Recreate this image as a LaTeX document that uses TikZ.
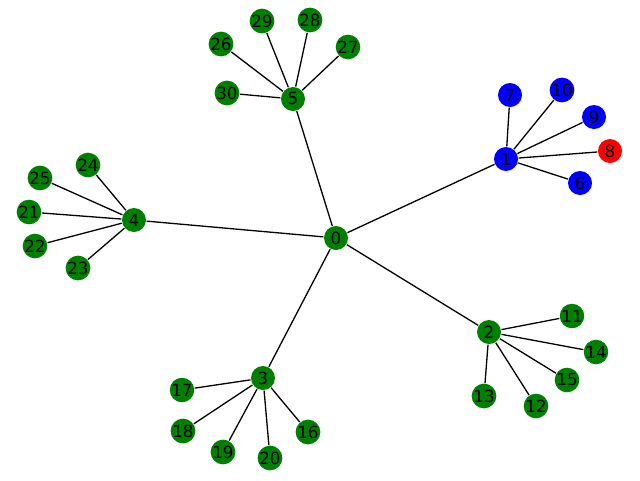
\documentclass[tikz,border=0pt]{standalone}
\usepackage{fontspec}
\setmainfont{DejaVu Sans}
\usepackage{tikz}
\usetikzlibrary{positioning}
\definecolor{nxgreen}{RGB}{0,128,0}
\definecolor{nxblue}{RGB}{0,0,255}
\definecolor{nxred}{RGB}{255,0,0}
\tikzset{
  vtx/.style={circle, fill=nxgreen, minimum size=24pt, inner sep=0pt,
    font=\fontsize{16.7}{18}\selectfont},
  blu/.style={vtx, fill=nxblue},
  rd/.style={vtx, fill=nxred},
}

\begin{document}
\begin{tikzpicture}
          [x=1pt, y=-1pt, every path/.style={line width=1.3pt}]
          \useasboundingbox (0,0) rectangle (640,480);
          \node (n0) [vtx] at (336,238) {0};
          \node (n1) [blu] at (506,159) {1};
          \node (n2) [vtx] at (489,332) {2};
          \node (n3) [vtx] at (263,378) {3};
          \node (n4) [vtx] at (134,220) {4};
          \node (n5) [vtx] at (293,99) {5};
          \node (n6) [blu] at (580,183) {6};
          \node (n7) [blu] at (510,95) {7};
          \node (n8) [rd] at (610,151) {8};
          \node (n9) [blu] at (594,117) {9};
          \node (n10) [blu] at (562,90) {10};
          \node (n11) [vtx] at (572,316) {11};
          \node (n12) [vtx] at (536,406) {12};
          \node (n13) [vtx] at (484,396) {13};
          \node (n14) [vtx] at (596,352) {14};
          \node (n15) [vtx] at (567,380) {15};
          \node (n16) [vtx] at (308,432) {16};
          \node (n17) [vtx] at (182,390) {17};
          \node (n18) [vtx] at (183,431) {18};
          \node (n19) [vtx] at (223,452) {19};
          \node (n20) [vtx] at (270,458) {20};
          \node (n21) [vtx] at (29,212) {21};
          \node (n22) [vtx] at (35,246) {22};
          \node (n23) [vtx] at (78,268) {23};
          \node (n24) [vtx] at (88,165) {24};
          \node (n25) [vtx] at (40,178) {25};
          \node (n26) [vtx] at (221,44) {26};
          \node (n27) [vtx] at (348,47) {27};
          \node (n28) [vtx] at (310,20) {28};
          \node (n29) [vtx] at (262,21) {29};
          \node (n30) [vtx] at (227,93) {30};

          \foreach \h in {1,2,3,4,5}
            \draw (n0) -- (n\h);
          \foreach \l in {6,...,10}
            \draw (n1) -- (n\l);
          \foreach \l in {11,...,15}
            \draw (n2) -- (n\l);
          \foreach \l in {16,...,20}
            \draw (n3) -- (n\l);
          \foreach \l in {21,...,25}
            \draw (n4) -- (n\l);
          \foreach \l in {26,...,30}
            \draw (n5) -- (n\l);

        \end{tikzpicture}
\end{document}
